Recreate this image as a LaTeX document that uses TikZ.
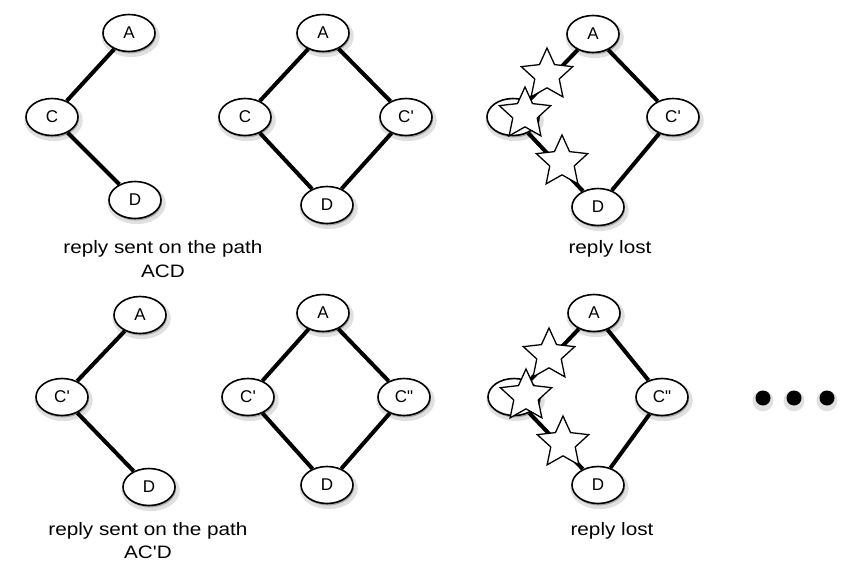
\documentclass[tikz,border=0pt]{standalone}
\usepackage{fontspec}
\setmainfont{Liberation Sans}[Ligatures=TeXOff]
\usetikzlibrary{shapes.geometric,shadows}
\begin{document}
\begin{tikzpicture}[x=1pt,y=-1pt,
  vtx/.style={ellipse, draw, line width=1.6pt, fill=white, minimum width=52pt, minimum height=37pt, inner sep=0pt,
    font=\fontsize{17}{19}\selectfont,
    drop shadow={shadow xshift=1.5pt, shadow yshift=-3pt, shadow scale=1.12, opacity=0.12, fill=black},
    drop shadow={shadow xshift=1pt, shadow yshift=-2pt, opacity=0.25, fill=black}},
  link/.style={line width=4pt},
  lost/.style={star, star points=5, star point ratio=2.1, minimum size=54pt, inner sep=0pt, draw, line width=1.3pt, fill=white},
  lbl/.style={font=\fontsize{18}{20}\selectfont, inner sep=0pt},
  dotn/.style={circle, fill=black, minimum size=15pt, inner sep=0pt,
    drop shadow={shadow xshift=0pt, shadow yshift=-2pt, shadow scale=1.4, opacity=0.12, fill=black}}]
\useasboundingbox[fill=white] (0,0) rectangle (844,562);
% ---------- top row, panel 1
\node[vtx] (a1) at (129,33) {A};
\node[vtx] (c1) at (52,117) {C};
\node[vtx] (d1) at (135,200) {D};
\draw[link] (a1) -- (c1);
\draw[link] (c1) -- (d1);
\node[lbl] (l1) at (163,249) {\scalebox{1.15}[1]{reply sent on the path}};
\node[lbl] (l1b) at (163,271) {\scalebox{1.15}[1]{ACD}};
% ---------- top row, panel 2
\node[vtx] (a2) at (323,33) {A};
\node[vtx] (c2) at (245,117) {C};
\node[vtx] (cp2) at (406,117) {C'};
\node[vtx] (d2) at (327,205) {D};
\draw[link] (a2) -- (c2);
\draw[link] (c2) -- (d2);
\draw[link] (a2) -- (cp2);
\draw[link] (cp2) -- (d2);
% ---------- top row, panel 3
\node[vtx] (a3) at (593,34) {A};
\node[vtx] (c3) at (513,117) {};
\node[vtx] (cp3) at (673,117) {C'};
\node[vtx] (d3) at (598,207) {D};
\draw[link] (a3) -- (c3);
\draw[link] (c3) -- (d3);
\draw[link] (a3) -- (cp3);
\draw[link] (cp3) -- (d3);
\node[lost] (s31) at (547,75) {};
\node[lost] (s32) at (525,114) {};
\node[lost] (s33) at (562,162) {};
\node[lbl] (l3) at (610,249) {\scalebox{1.15}[1]{reply lost}};
% ---------- bottom row, panel 1
\node[vtx] (a4) at (140,315) {A};
\node[vtx] (c4) at (62,397) {C'};
\node[vtx] (d4) at (149,487) {D};
\draw[link] (a4) -- (c4);
\draw[link] (c4) -- (d4);
\node[lbl] (l4) at (148,531) {\scalebox{1.15}[1]{reply sent on the path}};
\node[lbl] (l4b) at (148,552) {\scalebox{1.15}[1]{AC'D}};
% ---------- bottom row, panel 2
\node[vtx] (a5) at (323,313) {A};
\node[vtx] (c5) at (248,397) {C'};
\node[vtx] (cp5) at (404,397) {C"};
\node[vtx] (d5) at (327,485) {D};
\draw[link] (a5) -- (c5);
\draw[link] (c5) -- (d5);
\draw[link] (a5) -- (cp5);
\draw[link] (cp5) -- (d5);
% ---------- bottom row, panel 3
\node[vtx] (a6) at (594,313) {A};
\node[vtx] (c6) at (514,397) {};
\node[vtx] (cp6) at (662,397) {C"};
\node[vtx] (d6) at (598,485) {D};
\draw[link] (a6) -- (c6);
\draw[link] (c6) -- (d6);
\draw[link] (a6) -- (cp6);
\draw[link] (cp6) -- (d6);
\node[lost] (s61) at (549,355) {};
\node[lost] (s62) at (526,396) {};
\node[lost] (s63) at (563,443) {};
\node[lbl] (l6) at (612,531) {\scalebox{1.15}[1]{reply lost}};
% ---------- ellipsis dots
\node[dotn] (e1) at (763,398) {};
\node[dotn] (e2) at (794,398) {};
\node[dotn] (e3) at (827,398) {};
\end{tikzpicture}
\end{document}
